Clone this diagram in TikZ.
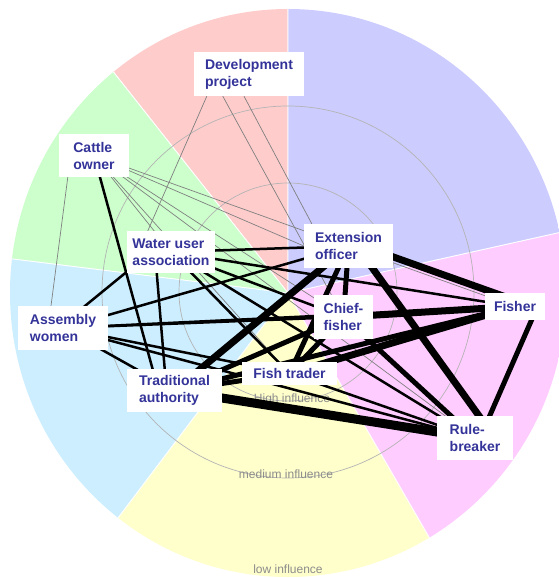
\documentclass[tikz,border=0pt]{standalone}
\usepackage{fontspec}
\setmainfont{Liberation Sans}
\usetikzlibrary{calc}
\definecolor{sRed}{HTML}{FFCCCC}
\definecolor{sGreen}{HTML}{CCFFCC}
\definecolor{sBlue}{HTML}{CCEEFF}
\definecolor{sYellow}{HTML}{FFFFCC}
\definecolor{sPink}{HTML}{FFCCFF}
\definecolor{sLav}{HTML}{CCCCFF}
\definecolor{txt}{HTML}{333399}
\definecolor{ringc}{HTML}{B4B4B4}
\definecolor{labc}{HTML}{8C8C8C}
\definecolor{weakc}{HTML}{808080}
\pgfdeclarelayer{bg}
\pgfdeclarelayer{edges}
\pgfsetlayers{bg,edges,main}
\begin{document}
\begin{tikzpicture}[x=1pt,y=-1pt,
  actor/.style={fill=white, text=txt, font=\fontsize{14}{17}\selectfont\bfseries, align=left, inner sep=0pt},
  ring/.style={draw=ringc, line width=0.7pt},
  zone/.style={text=labc, font=\fontsize{12}{14}\selectfont, inner sep=0pt},
  weak/.style={draw=weakc, line width=0.7pt},
  sector/.style={draw=white, line width=0.8pt},
  thin tie/.style={draw=black, line width=2.5pt},
  mid tie/.style={draw=black, line width=5pt},
  heavy tie/.style={draw=black, line width=7pt},
  huge tie/.style={draw=black, line width=9pt}]
\useasboundingbox (0,0) rectangle (558,578);

% actors
\node[actor, minimum width=110pt, minimum height=44pt] (dev) at (249,74) {Development\\project};
\node[actor, minimum width=70pt, minimum height=43pt] (cattle) at (94,155.5) {Cattle\\owner};
\node[actor, minimum width=88pt, minimum height=42pt] (water) at (171,252) {Water user\\association};
\node[actor, minimum width=89pt, minimum height=44pt] (ext) at (348.5,246) {Extension\\officer};
\node[actor, minimum width=90pt, minimum height=44pt] (assembly) at (63,328) {Assembly\\women};
\node[actor, minimum width=59pt, minimum height=44pt] (chief) at (343.5,317) {Chief-\\fisher};
\node[actor, minimum width=60pt, minimum height=27pt] (fisher) at (515,306.5) {Fisher};
\node[actor, minimum width=95pt, minimum height=23pt] (trader) at (289.5,373.5) {Fish trader};
\node[actor, minimum width=95pt, minimum height=43pt] (trad) at (174.5,390.5) {Traditional\\authority};
\node[actor, minimum width=76pt, minimum height=44pt] (rule) at (475,438) {Rule-\\breaker};

\begin{pgfonlayer}{bg}
  \coordinate (c) at (288,293);
  \begin{scope}
    \clip (c) ellipse [x radius=278pt, y radius=284pt];
    \fill[sRed, sector] (c) -- (288,-107) -- (40,-21) -- cycle;
    \fill[sGreen, sector] (c) -- (40,-21) -- (-109,244) -- cycle;
    \fill[sBlue, sector] (c) -- (-109,244) -- (47,612) -- cycle;
    \fill[sYellow, sector] (c) -- (47,612) -- (488,639) -- cycle;
    \fill[sPink, sector] (c) -- (488,639) -- (678,206) -- cycle;
    \fill[sLav, sector] (c) -- (678,206) -- (288,-107) -- cycle;
  \end{scope}
  \draw[ring] (288,292) circle [radius=109pt];
  \draw[ring] (288,292) circle [radius=186pt];
  \node[zone] (hi) at (292,399) {High influence};
  \node[zone] (med) at (286,474) {medium influence};
  \node[zone] (low) at (288,569) {low influence};
\end{pgfonlayer}

\begin{pgfonlayer}{edges}
  % weak ties
  \draw[weak] ($(dev.south west)+(13,0)$) -- ($(water.north west)+(21,0)$);
  \draw[weak] ($(dev.south)+(-5,0)$) -- ($(ext.north west)+(8,0)$);
  \draw[weak] ($(dev.south west)+(29,0)$) -- (chief.center);
  \draw[weak] ($(cattle.south west)+(9,0)$) -- ($(assembly.north)+(-12,0)$);
  \draw[weak] (cattle.center) -- (water.center);
  \draw[weak] (cattle.center) -- (ext.west);
  \draw[weak] (cattle.center) -- (fisher.center);
  \draw[weak] (cattle.center) -- (chief.center);
  \draw[weak] (cattle.center) -- (trader.center);
  \draw[weak] (cattle.center) -- (rule.center);
  % thin ties
  \draw[thin tie] (cattle.center) -- ($(trad.center)+(-16,0)$);
  \draw[thin tie] (water.center) -- (ext.center);
  \draw[thin tie] ($(water.center)+(-20,0)$) -- ($(assembly.center)+(-5,0)$);
  \draw[thin tie] (water.center) -- (fisher.center);
  \draw[thin tie] (water.center) -- (chief.center);
  \draw[thin tie] (water.center) -- (trader.center);
  \draw[thin tie] (water.center) -- (rule.center);
  \draw[thin tie] ($(water.center)+(-16,0)$) -- ($(trad.center)+(-8,0)$);
  \draw[thin tie] (assembly.center) -- (ext.center);
  \draw[thin tie] (assembly.center) -- (chief.center);
  \draw[thin tie] (assembly.center) -- (fisher.center);
  \draw[thin tie] (assembly.center) -- (trader.center);
  \draw[thin tie] (assembly.center) -- (rule.center);
  \draw[thin tie] (assembly.center) -- (trad.center);
  \draw[thin tie] (trader.center) -- (rule.center);
  % stronger ties
  \draw[mid tie] (trader.center) -- (trad.center);
  \draw[mid tie] (chief.center) -- (trader.center);
  \draw[mid tie] (chief.center) -- (trad.center);
  \draw[mid tie] (chief.center) -- (rule.center);
  \draw[mid tie] (ext.center) -- (chief.center);
  \draw[mid tie] (ext.center) -- (trader.center);
  \draw[mid tie] (fisher.center) -- (trad.center);
  \draw[mid tie] ($(fisher.east)+(-6,-4)$) -- ($(rule.center)+(5,0)$);
  \draw[heavy tie] ($(ext.center)+(8,0)$) -- ($(rule.center)+(20,0)$);
  \draw[heavy tie] (fisher.center) -- (trader.center);
  \draw[heavy tie] (fisher.center) -- (chief.center);
  \draw[heavy tie] ($(ext.center)+(0,-5)$) -- ($(fisher.center)+(-5,-8)$);
  \draw[heavy tie] (ext.center) -- (trad.center);
  \draw[huge tie] (trad.center) -- (rule.center);
\end{pgfonlayer}
\end{tikzpicture}
\end{document}
